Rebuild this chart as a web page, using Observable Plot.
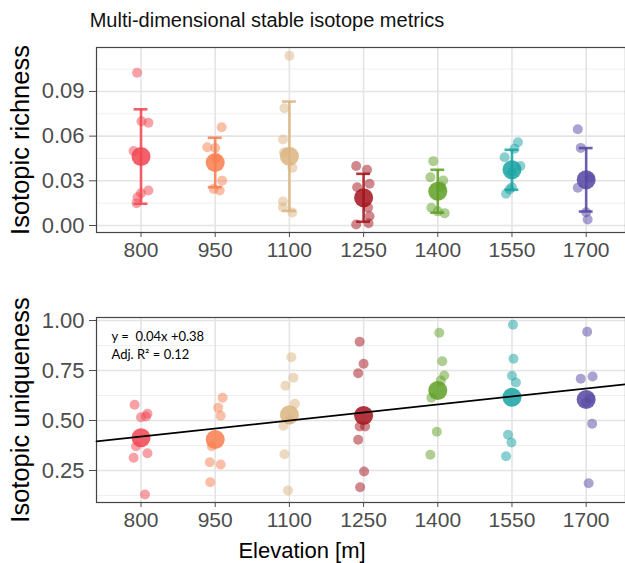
<!DOCTYPE html>
<html>
<head>
<meta charset="utf-8">
<script src="https://cdn.jsdelivr.net/npm/d3@7"></script>
<script src="https://cdn.jsdelivr.net/npm/@observablehq/plot@0.6"></script>
<style>
  html, body { margin: 0; padding: 0; background: #fff; }
  #wrap { position: relative; width: 625px; height: 563px; overflow: hidden; font-family: "Liberation Sans", Arial, sans-serif; }
  #title { position: absolute; left: 0; top: 10px; width: 534px; text-align: center; font-size: 20px; line-height: 20px; color: #111; white-space: nowrap; }
  #xtitle { position: absolute; left: 0; top: 540px; width: 604px; text-align: center; font-size: 22px; line-height: 22px; color: #000; white-space: nowrap; }
  #topPanel { position: absolute; left: 0; top: 40px; }
  #botPanel { position: absolute; left: 0; top: 280px; }
</style>
</head>
<body>
<div id="wrap">
  <div id="topPanel"></div>
  <div id="botPanel"></div>
  <div id="title">Multi-dimensional stable isotope metrics</div>
  <div id="xtitle">Elevation [m]</div>
</div>
<script>
// ---------- data ----------
const elevations = [800, 950, 1100, 1250, 1400, 1550, 1700];
const colors = ["#F2444F", "#F87E4E", "#DBB480", "#A3121B", "#5E9F24", "#17A2A2", "#5546A2"];

// Isotopic richness: individual values per elevation
const richnessValues = [
  [0.1025, 0.070, 0.069, 0.050, 0.0235, 0.0217, 0.019, 0.015],
  [0.066, 0.0525, 0.052, 0.045, 0.030, 0.0246, 0.0235],
  [0.114, 0.0787, 0.0577, 0.049, 0.0387, 0.0161, 0.0123, 0.0087],
  [0.040, 0.0374, 0.028, 0.0257, 0.012, 0.0062, 0.0015, 0.0007],
  [0.0432, 0.0324, 0.0302, 0.026, 0.0119, 0.0095, 0.0083],
  [0.0559, 0.0515, 0.0458, 0.040, 0.036, 0.0257, 0.0242, 0.0213],
  [0.0646, 0.0521, 0.032, 0.0253, 0.0089, 0.004]
];
// horizontal jitter of the points (in metres of elevation)
const richnessJitter = [
  [-8, 1, 15, -15, 15, 0, -7, -9],
  [13, -16, 0, 2, 14, -3, 9],
  [0, -10, -13, -11, 6, -13, -13, 6],
  [-15, 7, 12, -13, 9, 12, 10, -15],
  [-9, -15, 11, 7, -13, 0, 14],
  [12, 5, -15, 17, 0, 0, -5, -12],
  [-17, -11, 7, -17, 0, 3]
];
const richnessMean = [0.0463, 0.0423, 0.0465, 0.0186, 0.023, 0.0374, 0.0307];
const richnessSD = [0.0317, 0.0166, 0.0367, 0.0161, 0.0144, 0.0134, 0.0213];

// Isotopic uniqueness
const uniquenessValues = [
  [0.5785, 0.5335, 0.52, 0.5165, 0.3715, 0.3365, 0.3135, 0.13],
  [0.6135, 0.5635, 0.5235, 0.3715, 0.2915, 0.28, 0.1915],
  [0.8165, 0.7135, 0.6735, 0.5835, 0.5035, 0.4735, 0.3315, 0.15],
  [0.8935, 0.7835, 0.7365, 0.47, 0.47, 0.4035, 0.245, 0.1665],
  [0.9385, 0.7965, 0.725, 0.70, 0.6135, 0.4435, 0.3285],
  [0.9785, 0.8085, 0.7235, 0.69, 0.4285, 0.39, 0.3215],
  [0.9435, 0.72, 0.7085, 0.61, 0.59, 0.4835, 0.1865]
];
const uniquenessJitter = [
  [-13, 13, 10, 0, -10, 13, -15, 8],
  [15, 6, 11, -7, -11, 11, -10],
  [4, 8, -8, 11, 1, -12, -10, -3],
  [-8, 0, -11, -8, 3, -11, 1, -7],
  [3, 9, 13, 6, -13, -2, -15],
  [2, 3, 0, 8, -8, -1, -12],
  [2, 13, -11, 7, 0, 12, 5]
];
const uniquenessMean = [0.4135, 0.405, 0.5285, 0.525, 0.65, 0.6165, 0.605];

// regression (x = elevation class index 1..7)
const regSlope = 0.04;
const regIntercept = 0.38;
const equationText = "y =  0.04x +0.38";
const r2Text = "Adj. R\u00B2 = 0.12";

// axis ticks
const richnessTicks = [0, 0.03, 0.06, 0.09];
const richnessMinor = [0.015, 0.045, 0.075, 0.105];
const uniquenessTicks = [0.25, 0.50, 0.75, 1.00];
const uniquenessMinor = [0.125, 0.375, 0.625, 0.875];

// ---------- helpers ----------
const step = elevations[1] - elevations[0];
const xDomain = [elevations[0] - 0.6 * step, elevations[elevations.length - 1] + 0.53 * step];

function points(values, jitter) {
  return elevations.flatMap((e, i) => values[i].map((v, j) => ({elev: e, xj: e + jitter[i][j], v})));
}

function basePlot({height, marginTop, marginBottom, yDomain, yTicks, yMinor, yFormat, yTitle, marks}) {
  return Plot.plot({
    width: 625,
    height,
    marginLeft: 96,
    marginRight: 0,
    marginTop,
    marginBottom,
    style: {fontFamily: "'Liberation Sans', Arial, sans-serif", background: "transparent", overflow: "visible", color: "#4D4D4D"},
    x: {type: "linear", domain: xDomain},
    y: {domain: yDomain},
    color: {type: "ordinal", domain: elevations, range: colors},
    marks: [
      Plot.ruleY(yMinor, {stroke: "#EFEFEF", strokeWidth: 1}),
      Plot.ruleY(yTicks, {stroke: "#E4E4E4", strokeWidth: 1.6}),
      Plot.ruleX(elevations, {stroke: "#E4E4E4", strokeWidth: 1.6}),
      Plot.frame({stroke: "#444", strokeWidth: 1.2}),
      Plot.axisX({ticks: elevations, tickFormat: "d", tickSize: 5, tickPadding: 5, fontSize: 21, label: null}),
      Plot.axisY({ticks: yTicks, tickFormat: yFormat, tickSize: 7, tickPadding: 5, fontSize: 22, label: null}),
      ...marks,
      Plot.text([yTitle], {frameAnchor: "left", dx: -76, rotate: -90, fontSize: 25.5, textAnchor: "middle", lineAnchor: "middle", fill: "black"})
    ]
  });
}

// ---------- top panel: richness ----------
const richPts = points(richnessValues, richnessJitter);
const richMeans = elevations.map((e, i) => ({elev: e, m: richnessMean[i], sd: richnessSD[i]}));

const topPlot = basePlot({
  height: 222, marginTop: 7, marginBottom: 30,
  yDomain: [-0.0047, 0.1195], yTicks: richnessTicks, yMinor: richnessMinor,
  yFormat: ".2f", yTitle: "Isotopic richness",
  marks: [
    Plot.dot(richPts, {x: "xj", y: "v", r: 5, fill: "elev", fillOpacity: 0.5}),
    Plot.ruleX(richMeans, {x: "elev", y1: d => d.m - d.sd, y2: d => d.m + d.sd, stroke: "elev", strokeWidth: 2.6, strokeOpacity: 0.85}),
    Plot.ruleY(richMeans, {y: d => d.m + d.sd, x1: d => d.elev - 14, x2: d => d.elev + 14, stroke: "elev", strokeWidth: 2.6, strokeOpacity: 0.85}),
    Plot.ruleY(richMeans, {y: d => d.m - d.sd, x1: d => d.elev - 14, x2: d => d.elev + 14, stroke: "elev", strokeWidth: 2.6, strokeOpacity: 0.85}),
    Plot.dot(richMeans, {x: "elev", y: "m", r: 9.5, fill: "elev", fillOpacity: 0.85})
  ]
});
document.getElementById("topPanel").append(topPlot);

// ---------- bottom panel: uniqueness ----------
const uniqPts = points(uniquenessValues, uniquenessJitter);
const uniqMeans = elevations.map((e, i) => ({elev: e, m: uniquenessMean[i]}));
const regLine = xDomain.map(x => ({x, y: regSlope * ((x - (elevations[0] - step)) / step) + regIntercept}));

const botPlot = basePlot({
  height: 283, marginTop: 37, marginBottom: 61,
  yDomain: [0.09, 1.015], yTicks: uniquenessTicks, yMinor: uniquenessMinor,
  yFormat: ".2f", yTitle: "Isotopic uniqueness",
  marks: [
    Plot.dot(uniqPts, {x: "xj", y: "v", r: 5, fill: "elev", fillOpacity: 0.5}),
    Plot.dot(uniqMeans, {x: "elev", y: "m", r: 9.5, fill: "elev", fillOpacity: 0.85}),
    Plot.line(regLine, {x: "x", y: "y", stroke: "black", strokeWidth: 1.8}),
    Plot.text([equationText + "\n" + r2Text], {frameAnchor: "top-left", dx: 15, dy: 11, textAnchor: "start", lineAnchor: "top", fontSize: 13, lineHeight: 1.38, fontFamily: "Lato, 'Open Sans', sans-serif", fill: "black"})
  ]
});
document.getElementById("botPanel").append(botPlot);
</script>
</body>
</html>
